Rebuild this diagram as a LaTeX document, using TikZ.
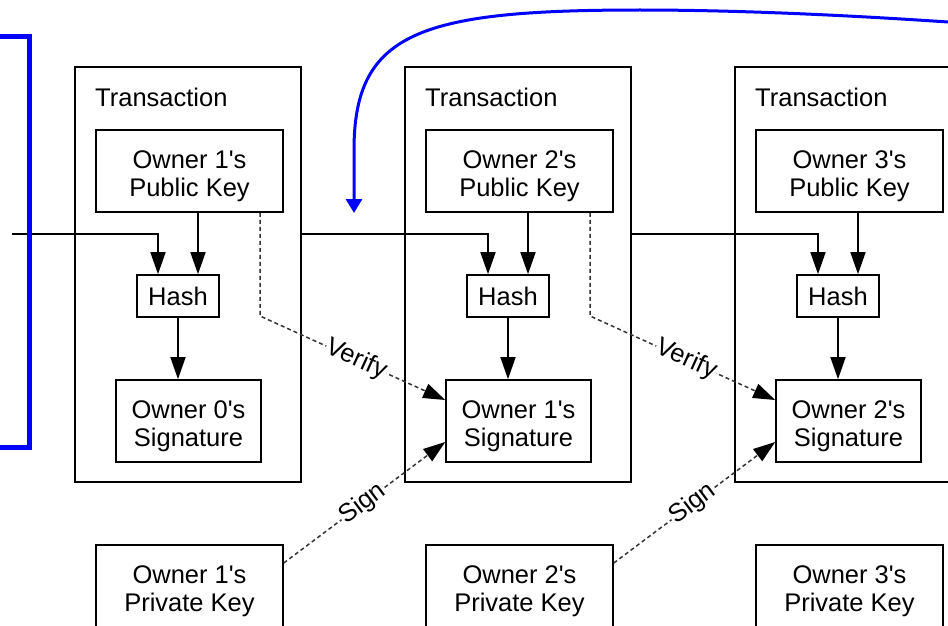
\documentclass[tikz,border=0pt]{standalone}
\usepackage{fontspec}
\setmainfont{Liberation Sans}
\usetikzlibrary{arrows.meta}
\newcommand\topstrut{\rule{0pt}{27.6pt}}
\begin{document}
\begin{tikzpicture}[x=1pt,y=-1pt,
  txt/.style={font=\fontsize{25.5}{28}\selectfont},
  box/.style={txt, draw, line width=1.6pt, inner sep=0pt, align=center},
  txbox/.style={draw, line width=1.6pt, minimum width=226pt, minimum height=415pt, inner sep=0pt},
  arr/.style={line width=1.6pt, -{Triangle[length=22pt,width=15pt]}},
  dasharr/.style={line width=1.5pt, black!80, dash pattern=on 4pt off 3pt, -{Triangle[length=22pt,width=15pt,black]}},
  lbl/.style={txt, fill=white, inner sep=1pt, sloped, text=black},
  bluebar/.style={draw=blue, line width=5pt, line join=miter},
  bluearr/.style={draw=blue, line width=3pt, -{Triangle[length=14pt,width=16pt]}}
]
\useasboundingbox (0,0) rectangle (948,626);
\clip (0,0) rectangle (948,626);

\foreach \i/\j/\dx in {1/0/0, 2/1/330, 3/2/660} {
  \node[txbox] (tx\i) at (188+\dx, 274.5) {};
  \node[txt, anchor=west, inner sep=0pt] (tl\i) at (95+\dx, 97) {Transaction};
  \node[box, minimum width=187pt, minimum height=82pt] (pk\i) at (189.5+\dx,171) {\topstrut Owner \i\textquotesingle s\\Public Key};
  \node[box, minimum width=82pt, minimum height=42pt] (h\i) at (178+\dx,296) {Hash};
  \node[box, minimum width=145pt, minimum height=82pt] (sig\i) at (188.5+\dx,421) {\topstrut Owner \j\textquotesingle s\\Signature};
  \node[box, minimum width=187pt, minimum height=82pt] (pv\i) at (189.5+\dx,586) {\topstrut Owner \i\textquotesingle s\\Private Key};
  \draw[arr] ([xshift=20pt]h\i.north |- pk\i.south) -- ([xshift=20pt]h\i.north);
  \draw[arr] (h\i.south) -- (h\i.south |- sig\i.north);
}

\coordinate (in1) at (12,234);
\draw[arr] (in1) -| ([xshift=-20pt]h1.north);
\draw[arr] (tx1.east |- in1) -| ([xshift=-20pt]h2.north);
\draw[arr] (tx2.east |- in1) -| ([xshift=-20pt]h3.north);

\coordinate (vb1) at (260,316);
\coordinate (vb2) at (590,316);
\draw[dasharr] (vb1 |- pk1.south) -- (vb1) -- node[lbl, pos=0.52] {Verify} ([yshift=21pt]sig2.west);
\draw[dasharr] (vb2 |- pk2.south) -- (vb2) -- node[lbl, pos=0.52] {Verify} ([yshift=21pt]sig3.west);
\draw[dasharr] ([yshift=23pt]pv1.east) -- node[lbl, pos=0.49] {Sign} ([yshift=-21pt]sig2.west);
\draw[dasharr] ([yshift=23pt]pv2.east) -- node[lbl, pos=0.49] {Sign} ([yshift=-21pt]sig3.west);

\draw[bluebar] (0,37) -- (29,37) -- (29,447) -- (0,447);
\coordinate (bs) at (948,22);
\coordinate (be) at (354,213);
\draw[bluearr] (bs) .. controls (800,12) and (700,10) .. (640,10) .. controls (420,10) and (354,32) .. (354,150) -- (be);
\end{tikzpicture}
\end{document}
